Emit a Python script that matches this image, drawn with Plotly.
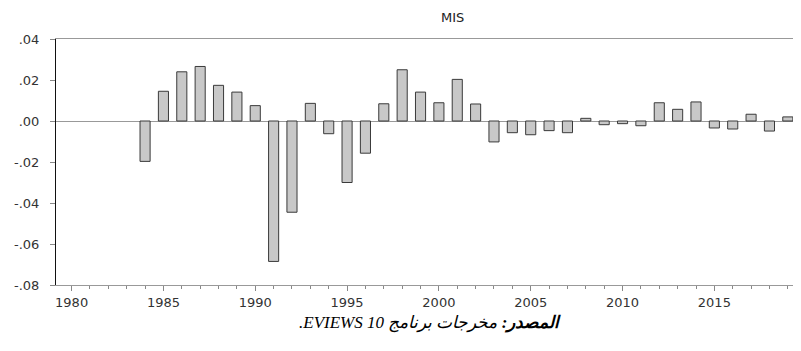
import plotly.graph_objects as go

years = list(range(1984, 2020))
mis = [-0.0197, 0.0145, 0.0240, 0.0266, 0.0174, 0.0141, 0.0075, -0.0685, -0.0445,
       0.0086, -0.0062, -0.0300, -0.0157, 0.0084, 0.0250, 0.0141, 0.0089, 0.0203,
       0.0083, -0.0102, -0.0057, -0.0067, -0.0047, -0.0057, 0.0013, -0.0018,
       -0.0013, -0.0023, 0.0089, 0.0057, 0.0093, -0.0034, -0.0039, 0.0033,
       -0.0049, 0.0020]

ytick_vals = [0.04, 0.02, 0.0, -0.02, -0.04, -0.06, -0.08]
ytick_text = [".04", ".02", ".00", "-.02", "-.04", "-.06", "-.08"]
xtick_vals = [1980, 1985, 1990, 1995, 2000, 2005, 2010, 2015]
xtick_text = [str(v) for v in xtick_vals]

title_text = "MIS"
caption_text = ".EVIEWS 10 <b>المصدر:</b> مخرجات برنامج"

tick_font = dict(family="DejaVu Sans", size=13, color="#333")

fig = go.Figure()
fig.add_trace(go.Bar(
    x=years, y=mis, width=0.55,
    marker=dict(color="#c8c8c8", line=dict(color="#3a3a3a", width=1)),
))

# the page body has an 8px margin; size/margins compensate for it
fig.update_layout(
    width=793, height=343,
    margin=dict(l=48, r=4, t=31, b=66, autoexpand=False),
    paper_bgcolor="white", plot_bgcolor="white",
    showlegend=False,
    font=dict(family="DejaVu Sans", size=13, color="#333"),
)

fig.add_annotation(
    text=title_text, xref="paper", yref="paper",
    x=0.535, y=1.0, yshift=22, xanchor="center", yanchor="middle", showarrow=False,
    font=dict(family="DejaVu Sans", size=13, color="#222"),
)

fig.update_xaxes(
    range=[1979.15, 2019.5],
    tickvals=xtick_vals, ticktext=xtick_text,
    ticks="outside", ticklen=5, tickcolor="#888", tickwidth=1,
    minor=dict(dtick=1, tick0=1980, ticks="outside", ticklen=3, tickcolor="#888", tickwidth=1),
    showline=True, linecolor="#999", linewidth=1, mirror=True,
    showgrid=False, zeroline=False,
    tickfont=tick_font,
)

fig.update_yaxes(
    range=[-0.08, 0.04],
    tickvals=ytick_vals, ticktext=ytick_text,
    ticks="outside", ticklen=5, tickcolor="#888", tickwidth=1,
    ticklabelstandoff=8,
    showline=True, linecolor="#111", linewidth=1,
    showgrid=False,
    zeroline=True, zerolinecolor="#999", zerolinewidth=1,
    tickfont=tick_font,
)

fig.add_annotation(
    text=caption_text, xref="paper", yref="paper",
    x=0.505, y=-0.155, xanchor="center", yanchor="middle", showarrow=False,
    font=dict(family="Liberation Serif", size=17, color="#000", style="italic"),
)

fig.write_html("out.html")
